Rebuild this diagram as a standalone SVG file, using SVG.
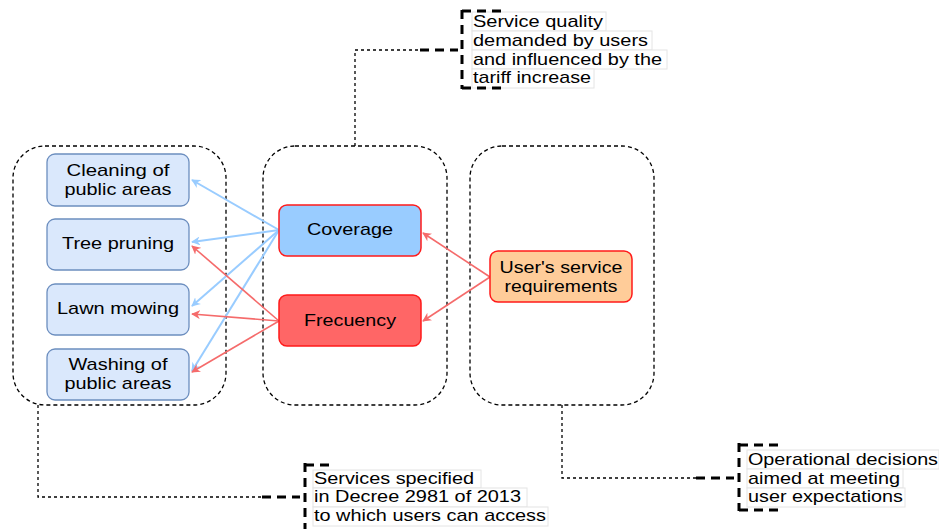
<svg xmlns="http://www.w3.org/2000/svg" width="939" height="529" viewBox="0 0 939 529">
<defs>
<style>
.cont{fill:none;stroke:#000;stroke-width:1.3;stroke-dasharray:4,3}
.svc{fill:#dae8fc;stroke:#6c8ebf;stroke-width:1.3}
.t{font-family:"Liberation Sans",Arial,sans-serif;font-size:17px;fill:#000;text-anchor:middle}
.n{font-family:"Liberation Sans",Arial,sans-serif;font-size:17px;fill:#000}
.blue{stroke:#99ccff;stroke-width:2;fill:none}
.red{stroke:#f56b6b;stroke-width:1.6;fill:none}
.dot{fill:none;stroke:#000;stroke-width:1.3;stroke-dasharray:3,3}
.thick{fill:none;stroke:#000;stroke-width:3;stroke-dasharray:9,6}
.lbl{fill:#fff;stroke:#e4e4e4;stroke-width:1}
</style>
<marker id="ab" viewBox="0 0 10 10" refX="9" refY="5" markerWidth="9" markerHeight="9" markerUnits="userSpaceOnUse" orient="auto"><path d="M0,0 L10,5 L0,10 L3,5 z" fill="#99ccff"/></marker>
<marker id="ar" viewBox="0 0 10 10" refX="9" refY="5" markerWidth="9" markerHeight="9" markerUnits="userSpaceOnUse" orient="auto"><path d="M0,0 L10,5 L0,10 L3,5 z" fill="#f56b6b"/></marker>
</defs>
<rect width="939" height="529" fill="#fff"/>

<g id="containers">
<rect class="cont" x="13" y="146" width="213" height="259" rx="32"/>
<rect class="cont" x="263" y="146" width="184" height="259" rx="32"/>
<rect class="cont" x="470" y="146" width="184" height="259" rx="32"/>
</g>

<g id="connectors">
<line class="blue" x1="279" y1="230" x2="192" y2="180" marker-end="url(#ab)"/>
<line class="blue" x1="279" y1="230" x2="192" y2="242" marker-end="url(#ab)"/>
<line class="blue" x1="279" y1="230" x2="192" y2="306" marker-end="url(#ab)"/>
<line class="blue" x1="279" y1="230" x2="192" y2="371" marker-end="url(#ab)"/>
<line class="red" x1="279" y1="321" x2="192" y2="246" marker-end="url(#ar)"/>
<line class="red" x1="279" y1="321" x2="192" y2="314" marker-end="url(#ar)"/>
<line class="red" x1="279" y1="321" x2="192" y2="372" marker-end="url(#ar)"/>
<line class="red" x1="490" y1="277" x2="423" y2="233" marker-end="url(#ar)"/>
<line class="red" x1="490" y1="277" x2="423" y2="321" marker-end="url(#ar)"/>
<polyline class="dot" points="355,146 355,50 420,50"/>
<line class="thick" x1="420" y1="50" x2="458" y2="50"/>
<polyline class="dot" points="38,405 38,497 262,497"/>
<line class="thick" x1="262" y1="497" x2="300" y2="497"/>
<polyline class="dot" points="562,405 562,478 696,478"/>
<line class="thick" x1="696" y1="478" x2="734" y2="478"/>
</g>

<g id="cleaning">
<rect class="svc" x="47" y="154" width="142" height="52" rx="8"/>
<text class="t" x="118" y="176" textLength="103" lengthAdjust="spacingAndGlyphs">Cleaning of</text>
<text class="t" x="118" y="195" textLength="107" lengthAdjust="spacingAndGlyphs">public areas</text>
</g>
<g id="tree">
<rect class="svc" x="47" y="219" width="142" height="51" rx="8"/>
<text class="t" x="118" y="249" textLength="112" lengthAdjust="spacingAndGlyphs">Tree pruning</text>
</g>
<g id="lawn">
<rect class="svc" x="47" y="284" width="142" height="51" rx="8"/>
<text class="t" x="118" y="314" textLength="122" lengthAdjust="spacingAndGlyphs">Lawn mowing</text>
</g>
<g id="washing">
<rect class="svc" x="47" y="349" width="142" height="51" rx="8"/>
<text class="t" x="118" y="370" textLength="99" lengthAdjust="spacingAndGlyphs">Washing of</text>
<text class="t" x="118" y="389" textLength="107" lengthAdjust="spacingAndGlyphs">public areas</text>
</g>
<g id="coverage">
<rect x="279" y="205" width="142" height="51" rx="8" fill="#99ccff" stroke="#ff1a1a" stroke-width="1.5"/>
<text class="t" x="350" y="235" textLength="86" lengthAdjust="spacingAndGlyphs">Coverage</text>
</g>
<g id="frecuency">
<rect x="279" y="295" width="142" height="51" rx="8" fill="#ff6666" stroke="#ff1a1a" stroke-width="1.5"/>
<text class="t" x="350" y="326" textLength="92" lengthAdjust="spacingAndGlyphs">Frecuency</text>
</g>
<g id="requirements">
<rect x="490" y="251" width="142" height="51" rx="8" fill="#ffcc99" stroke="#ff1a1a" stroke-width="1.5"/>
<text class="t" x="561" y="273" textLength="123" lengthAdjust="spacingAndGlyphs">User's service</text>
<text class="t" x="561" y="292" textLength="113" lengthAdjust="spacingAndGlyphs">requirements</text>
</g>

<g id="note-top">
<rect class="lbl" x="472" y="12" width="134" height="19"/>
<rect class="lbl" x="472" y="31" width="180" height="19"/>
<rect class="lbl" x="472" y="50" width="195" height="19"/>
<rect class="lbl" x="472" y="69" width="122" height="19"/>
<text class="n" x="473" y="27" textLength="130" lengthAdjust="spacingAndGlyphs">Service quality</text>
<text class="n" x="473" y="46" textLength="175" lengthAdjust="spacingAndGlyphs">demanded by users</text>
<text class="n" x="473" y="65" textLength="189" lengthAdjust="spacingAndGlyphs">and influenced by the</text>
<text class="n" x="473" y="83" textLength="118" lengthAdjust="spacingAndGlyphs">tariff increase</text>
<line class="thick" x1="462" y1="10" x2="462" y2="89"/>
<line class="thick" x1="462" y1="11" x2="504" y2="11"/>
<line class="thick" x1="462" y1="88" x2="504" y2="88"/>
</g>

<g id="note-left">
<rect class="lbl" x="313" y="470" width="168" height="18"/>
<rect class="lbl" x="313" y="488" width="214" height="19"/>
<rect class="lbl" x="313" y="507" width="235" height="19"/>
<text class="n" x="314" y="484" textLength="160" lengthAdjust="spacingAndGlyphs">Services specified</text>
<text class="n" x="314" y="502" textLength="207" lengthAdjust="spacingAndGlyphs">in Decree 2981 of 2013</text>
<text class="n" x="314" y="521" textLength="232" lengthAdjust="spacingAndGlyphs">to which users can access</text>
<line class="thick" x1="305" y1="463" x2="305" y2="529"/>
<line class="thick" x1="305" y1="465" x2="330" y2="465"/>
</g>

<g id="note-right">
<rect class="lbl" x="747" y="450" width="192" height="19"/>
<rect class="lbl" x="747" y="469" width="156" height="19"/>
<rect class="lbl" x="747" y="488" width="158" height="19"/>
<text class="n" x="748" y="465" textLength="190" lengthAdjust="spacingAndGlyphs">Operational decisions</text>
<text class="n" x="748" y="484" textLength="152" lengthAdjust="spacingAndGlyphs">aimed at meeting</text>
<text class="n" x="748" y="502" textLength="155" lengthAdjust="spacingAndGlyphs">user expectations</text>
<line class="thick" x1="739" y1="443" x2="739" y2="511"/>
<line class="thick" x1="739" y1="445" x2="781" y2="445"/>
<line class="thick" x1="739" y1="510" x2="781" y2="510"/>
</g>
</svg>
